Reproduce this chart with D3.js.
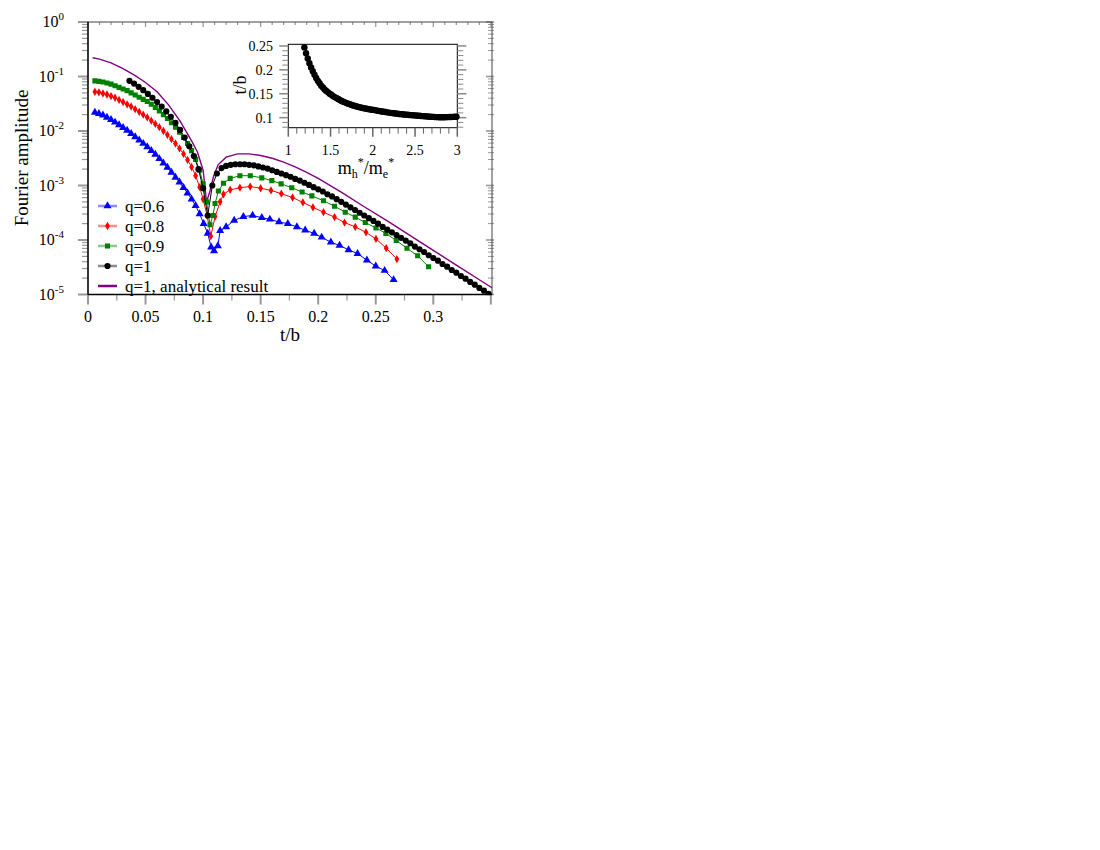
<!DOCTYPE html>
<html>
<head>
<meta charset="utf-8">
<script src="https://cdn.jsdelivr.net/npm/d3@7"></script>
<style>
  body { margin: 0; background: #fff; }
  text { font-family: "Liberation Serif", "Times New Roman", serif; fill: #000; }
</style>
</head>
<body>
<svg id="chart" width="1100" height="850"></svg>
<script>
// ---- data (t/b and log10 of the Fourier amplitude) ----
const blueT = [0.006,0.0095,0.013,0.0165,0.02,0.0235,0.027,0.0305,0.034,0.0375,0.041,0.0445,0.048,0.0515,0.055,0.0585,0.062,0.0655,0.069,0.0725,0.076,0.0795,0.083,0.0865,0.09,0.0935,0.097,0.1005,0.104,0.107,0.1095,0.1128,0.1148,0.12,0.127,0.135,0.143,0.151,0.158,0.166,0.1736,0.1815,0.1887,0.1965,0.203,0.211,0.2186,0.2264,0.2342,0.2423,0.25,0.2577,0.2655];
const blueLog = [-1.66,-1.68,-1.71,-1.75,-1.79,-1.84,-1.89,-1.94,-1.99,-2.05,-2.11,-2.17,-2.23,-2.29,-2.36,-2.43,-2.51,-2.59,-2.67,-2.76,-2.85,-2.94,-3.04,-3.14,-3.25,-3.37,-3.52,-3.70,-3.88,-4.13,-4.20,-4.11,-3.83,-3.76,-3.64,-3.57,-3.55,-3.59,-3.62,-3.67,-3.70,-3.76,-3.82,-3.88,-3.95,-4.04,-4.10,-4.18,-4.25,-4.37,-4.48,-4.56,-4.73];

const redT = [0.006,0.0095,0.013,0.0165,0.02,0.0235,0.027,0.0305,0.034,0.0375,0.041,0.0445,0.048,0.0515,0.055,0.0585,0.062,0.0655,0.069,0.0725,0.076,0.0795,0.083,0.0865,0.09,0.0935,0.097,0.1,0.1035,0.1067,0.1104,0.1148,0.1177,0.1235,0.132,0.1409,0.15,0.159,0.168,0.1777,0.1867,0.1954,0.2046,0.2142,0.2229,0.2322,0.2415,0.2502,0.2591,0.2684];
const redLog = [-1.28,-1.29,-1.31,-1.33,-1.36,-1.39,-1.43,-1.47,-1.51,-1.55,-1.60,-1.65,-1.70,-1.75,-1.81,-1.87,-1.93,-2.00,-2.07,-2.15,-2.23,-2.32,-2.42,-2.53,-2.66,-2.82,-3.03,-3.25,-3.55,-3.93,-3.57,-3.30,-3.16,-3.08,-3.04,-3.02,-3.05,-3.09,-3.15,-3.22,-3.31,-3.40,-3.49,-3.58,-3.68,-3.76,-3.86,-3.98,-4.15,-4.35];

const greenT = [0.006,0.0095,0.013,0.0165,0.02,0.0235,0.027,0.0305,0.034,0.0375,0.041,0.0445,0.048,0.0515,0.055,0.0585,0.062,0.0655,0.069,0.0725,0.076,0.0795,0.083,0.0865,0.09,0.0935,0.097,0.1,0.103,0.106,0.1085,0.1104,0.1133,0.1177,0.1235,0.132,0.141,0.151,0.1597,0.1678,0.177,0.186,0.1945,0.2046,0.2142,0.2235,0.2322,0.2409,0.2502,0.2588,0.2678,0.2771,0.2864,0.2959];
const greenLog = [-1.08,-1.09,-1.10,-1.12,-1.14,-1.17,-1.20,-1.23,-1.26,-1.30,-1.34,-1.38,-1.42,-1.46,-1.51,-1.57,-1.63,-1.70,-1.77,-1.85,-1.93,-2.02,-2.12,-2.23,-2.36,-2.52,-2.72,-2.97,-3.30,-3.72,-3.55,-3.33,-3.10,-2.96,-2.87,-2.82,-2.82,-2.86,-2.91,-2.97,-3.04,-3.12,-3.19,-3.28,-3.38,-3.49,-3.58,-3.68,-3.78,-3.88,-4.01,-4.15,-4.29,-4.49];

const blackT = [0.036,0.040,0.044,0.048,0.052,0.056,0.060,0.064,0.068,0.072,0.076,0.080,0.084,0.088,0.092,0.096,0.100,0.104,0.108,0.112,0.116,0.120,0.124,0.128,0.132,0.136,0.140,0.144,0.148,0.152,0.156,0.160,0.164,0.168,0.172,0.176,0.180,0.184,0.188,0.192,0.196,0.200,0.204,0.208,0.212,0.216,0.220,0.224,0.228,0.232,0.236,0.240,0.244,0.248,0.252,0.256,0.260,0.264,0.268,0.272,0.276,0.280,0.284,0.288,0.292,0.296,0.300,0.304,0.308,0.312,0.316,0.320,0.324,0.328,0.332,0.336,0.340,0.344,0.348,0.352];
const blackLog = [-1.08,-1.13,-1.19,-1.25,-1.32,-1.39,-1.47,-1.55,-1.64,-1.74,-1.85,-1.98,-2.12,-2.28,-2.46,-2.70,-3.05,-3.55,-3.00,-2.78,-2.68,-2.64,-2.62,-2.61,-2.61,-2.61,-2.62,-2.63,-2.65,-2.67,-2.69,-2.72,-2.75,-2.78,-2.81,-2.84,-2.88,-2.91,-2.95,-2.99,-3.03,-3.07,-3.11,-3.16,-3.20,-3.25,-3.30,-3.35,-3.40,-3.45,-3.50,-3.55,-3.60,-3.65,-3.70,-3.76,-3.81,-3.86,-3.91,-3.96,-4.01,-4.06,-4.12,-4.17,-4.22,-4.28,-4.33,-4.38,-4.44,-4.49,-4.55,-4.60,-4.66,-4.71,-4.77,-4.82,-4.88,-4.93,-4.99,-5.04];

const analyticT = [0.004,0.01,0.02,0.03,0.04,0.05,0.06,0.07,0.08,0.09,0.095,0.1,0.103,0.106,0.109,0.113,0.12,0.13,0.14,0.15,0.16,0.17,0.18,0.19,0.2,0.22,0.24,0.26,0.28,0.3,0.32,0.34,0.352];
const analyticLog = [-0.655,-0.68,-0.75,-0.85,-0.97,-1.11,-1.28,-1.52,-1.82,-2.18,-2.38,-2.72,-3.3,-3.1,-2.84,-2.62,-2.48,-2.42,-2.42,-2.45,-2.50,-2.57,-2.66,-2.76,-2.87,-3.12,-3.39,-3.65,-3.92,-4.19,-4.46,-4.73,-4.89];

// inset: t/b versus m_h*/m_e*
const massRatio = [1.19,1.21,1.23,1.25,1.27,1.29,1.31,1.33,1.35,1.37,1.39,1.41,1.43,1.45,1.47,1.49,1.51,1.53,1.55,1.57,1.59,1.61,1.63,1.65,1.67,1.69,1.71,1.73,1.75,1.77,1.79,1.81,1.83,1.85,1.87,1.89,1.91,1.93,1.95,1.97,1.99,2.01,2.03,2.05,2.07,2.09,2.11,2.13,2.15,2.17,2.19,2.21,2.23,2.25,2.27,2.29,2.31,2.33,2.35,2.37,2.39,2.41,2.43,2.45,2.47,2.49,2.51,2.53,2.55,2.57,2.59,2.61,2.63,2.65,2.67,2.69,2.71,2.73,2.75,2.77,2.79,2.81,2.83,2.85,2.87,2.89,2.91,2.93,2.95,2.97,2.99];
const insetTb = [0.247,0.235,0.224,0.214,0.205,0.197,0.190,0.183,0.177,0.172,0.167,0.163,0.159,0.156,0.153,0.150,0.148,0.145,0.143,0.141,0.139,0.137,0.135,0.1335,0.132,0.1305,0.129,0.128,0.1265,0.1255,0.1245,0.1235,0.1225,0.1215,0.1207,0.1199,0.1192,0.1185,0.1178,0.1172,0.1166,0.1162,0.1155,0.1148,0.1141,0.1135,0.1129,0.1123,0.1117,0.1111,0.1106,0.1101,0.1096,0.1091,0.1086,0.1082,0.1078,0.1074,0.1070,0.1066,0.1063,0.1060,0.1057,0.1054,0.1051,0.1048,0.1045,0.1042,0.1039,0.1036,0.1033,0.1030,0.1027,0.1024,0.1021,0.1018,0.1016,0.1014,0.1012,0.1011,0.1010,0.1010,0.1010,0.1010,0.1011,0.1012,0.1013,0.1014,0.1016,0.1018,0.1020];

const xTicks = [0, 0.05, 0.1, 0.15, 0.2, 0.25, 0.3];
const xTickLabels = ["0", "0.05", "0.1", "0.15", "0.2", "0.25", "0.3"];
const yDecades = [0, -1, -2, -3, -4, -5];
const insetXTicks = [1, 1.5, 2, 2.5, 3];
const insetXLabels = ["1", "1.5", "2", "2.5", "3"];
const insetYTicks = [0.1, 0.15, 0.2, 0.25];
const insetYLabels = ["0.1", "0.15", "0.2", "0.25"];

const series = [
  {name: "q=0.6", t: blueT, v: blueLog, color: "#0000ff", symbol: d3.symbolTriangle, size: 28},
  {name: "q=0.8", t: redT, v: redLog, color: "#ff0000", symbol: d3.symbolDiamond, size: 20},
  {name: "q=0.9", t: greenT, v: greenLog, color: "#008000", symbol: d3.symbolSquare, size: 26},
  {name: "q=1", t: blackT, v: blackLog, color: "#000000", symbol: d3.symbolCircle, size: 30}
];

const svg = d3.select("#chart");
const tickColor = "#999";

// ---- main plot ----
const pL = 88, pR = 492, pT = 22, pB = 294.5;
const x = d3.scaleLinear().domain([0, 0.351]).range([pL, pR]);
const y = d3.scaleLog().domain([1e-5, 1]).range([pB, pT]);

svg.append("clipPath").attr("id", "clip")
  .append("rect").attr("x", pL).attr("y", pT)
  .attr("width", pR - pL).attr("height", pB - pT);

// log ticks (left outward, right inward)
const logTicks = [];
for (let e = -5; e < 0; e++) {
  for (let m = 1; m < 10; m++) logTicks.push({v: m * Math.pow(10, e), major: m === 1});
}
logTicks.push({v: 1, major: true});

const gAx = svg.append("g");
gAx.selectAll(".ly").data(logTicks).join("line")
  .attr("x1", d => pL - (d.major ? 10 : 6)).attr("x2", pL)
  .attr("y1", d => y(d.v)).attr("y2", d => y(d.v))
  .attr("stroke", tickColor).attr("stroke-width", d => d.major ? 2 : 1.2);
gAx.selectAll(".ry").data(logTicks).join("line")
  .attr("x1", d => pR - (d.major ? 6 : 4)).attr("x2", pR + 2)
  .attr("y1", d => y(d.v)).attr("y2", d => y(d.v))
  .attr("stroke", tickColor).attr("stroke-width", d => d.major ? 1.6 : 1);

// bottom ticks
const xMinor = d3.range(0, 0.351, 0.025);
gAx.selectAll(".bx").data(xMinor).join("line")
  .attr("x1", d => x(d)).attr("x2", d => x(d))
  .attr("y1", pB).attr("y2", (d, i) => pB + (i % 2 === 0 ? 10 : 6))
  .attr("stroke", tickColor).attr("stroke-width", (d, i) => i % 2 === 0 ? 2 : 1.2);
// top ticks
const xTop = d3.range(0, 0.351, 0.01);
gAx.selectAll(".tx").data(xTop).join("line")
  .attr("x1", d => x(d)).attr("x2", d => x(d))
  .attr("y1", pT).attr("y2", (d, i) => pT + (i % 5 === 0 ? 5 : 3))
  .attr("stroke", tickColor).attr("stroke-width", 1.2);

// frame
svg.append("rect").attr("x", pL).attr("y", pT)
  .attr("width", pR - pL).attr("height", pB - pT)
  .attr("fill", "none").attr("stroke", "#444").attr("stroke-width", 1);
svg.append("line").attr("x1", pL).attr("x2", pR).attr("y1", pB).attr("y2", pB)
  .attr("stroke", "#000").attr("stroke-width", 1.3);
svg.append("line").attr("x1", pL).attr("x2", pL).attr("y1", pT).attr("y2", pB)
  .attr("stroke", "#000").attr("stroke-width", 1.3);

// tick labels
svg.selectAll(".xl").data(xTicks).join("text")
  .attr("x", d => x(d)).attr("y", 322)
  .attr("text-anchor", "middle").attr("font-size", 16)
  .text((d, i) => xTickLabels[i]);

const yl = svg.selectAll(".yl").data(yDecades).join("text")
  .attr("x", 64).attr("y", d => y(Math.pow(10, d)) + 5)
  .attr("text-anchor", "end").attr("font-size", 16);
yl.append("tspan").text("10");
yl.append("tspan").attr("dy", -7).attr("font-size", 11).text(d => d === 0 ? "0" : "-" + (-d));

svg.append("text").attr("x", 290).attr("y", 341).attr("text-anchor", "middle")
  .attr("font-size", 19).text("t/b");
svg.append("text").attr("transform", "translate(28,158) rotate(-90)")
  .attr("text-anchor", "middle").attr("font-size", 19).text("Fourier amplitude");

// data
const plot = svg.append("g").attr("clip-path", "url(#clip)");
const line = d3.line().x(d => x(d[0])).y(d => y(Math.pow(10, d[1])));

plot.append("path")
  .attr("d", line(analyticT.map((t, i) => [t, analyticLog[i]])))
  .attr("fill", "none").attr("stroke", "#800080").attr("stroke-width", 1.4);

series.forEach(s => {
  const pts = s.t.map((t, i) => [t, s.v[i]]);
  const g = plot.append("g");
  g.append("path").attr("d", line(pts))
    .attr("fill", "none").attr("stroke", s.color).attr("stroke-width", 1);
  g.selectAll("path.m").data(pts).join("path")
    .attr("class", "m")
    .attr("transform", d => `translate(${x(d[0])},${y(Math.pow(10, d[1]))})`)
    .attr("d", d3.symbol().type(s.symbol).size(s.size))
    .attr("fill", s.color);
});

// legend
const legendItems = series.concat([{name: "q=1, analytical result", color: "#800080"}]);
const legend = svg.selectAll(".legend").data(legendItems).join("g")
  .attr("transform", (d, i) => `translate(98, ${206 + i * 20})`);
legend.append("line")
  .attr("x1", 0).attr("x2", 19).attr("y1", 0).attr("y2", 0)
  .attr("stroke", d => d.color)
  .attr("stroke-opacity", d => d.symbol ? 0.45 : 1)
  .attr("stroke-width", 2.5);
legend.filter(d => d.symbol).append("path")
  .attr("transform", "translate(9.5,0)")
  .attr("d", d => d3.symbol().type(d.symbol).size(d.size)())
  .attr("fill", d => d.color);
legend.append("text").attr("x", 27).attr("y", 6)
  .attr("font-size", 17).text(d => d.name);

// ---- inset ----
const iL = 288.3, iR = 457.3, iT = 44.3, iB = 127.7;
const ix = d3.scaleLinear().domain([1, 3]).range([iL, iR]);
const iy = d3.scaleLinear().domain([0.079, 0.2535]).range([iB, iT]);
const inset = svg.append("g");

inset.append("rect").attr("x", iL).attr("y", iT)
  .attr("width", iR - iL).attr("height", iB - iT)
  .attr("fill", "#fff").attr("stroke", "#000").attr("stroke-width", 1);

const ixMinor = d3.range(1, 3.001, 0.1);
inset.selectAll(".ixt").data(ixMinor).join("line")
  .attr("x1", d => ix(d)).attr("x2", d => ix(d))
  .attr("y1", iB).attr("y2", (d, i) => iB + (i % 5 === 0 ? 9 : 6))
  .attr("stroke", "#666").attr("stroke-width", (d, i) => i % 5 === 0 ? 1.5 : 1);
const iyMinor = d3.range(0.08, 0.2535, 0.01);
[iL, iR].forEach((edge, k) => {
  const dir = k === 0 ? -1 : 1;
  inset.selectAll(".iyt" + k).data(iyMinor).join("line")
    .attr("x1", edge).attr("x2", d => edge + dir * (Math.round(d * 100) % 5 === 0 ? 9 : 6))
    .attr("y1", d => iy(d)).attr("y2", d => iy(d))
    .attr("stroke", "#888").attr("stroke-width", d => Math.round(d * 100) % 5 === 0 ? 1.5 : 1);
});

inset.selectAll(".ixl").data(insetXTicks).join("text")
  .attr("x", d => ix(d)).attr("y", 155).attr("text-anchor", "middle")
  .attr("font-size", 14).text((d, i) => insetXLabels[i]);
inset.selectAll(".iyl").data(insetYTicks).join("text")
  .attr("x", 273).attr("y", d => iy(d) + 5).attr("text-anchor", "end")
  .attr("font-size", 14).text((d, i) => insetYLabels[i]);

inset.append("text").attr("transform", "translate(246,85) rotate(-90)")
  .attr("text-anchor", "middle").attr("font-size", 18).text("t/b");
const mt = inset.append("text").attr("x", 366).attr("y", 174)
  .attr("text-anchor", "middle").attr("font-size", 18);
mt.append("tspan").text("m");
mt.append("tspan").attr("dy", 4).attr("font-size", 12).text("h");
mt.append("tspan").attr("dy", -12).attr("font-size", 12).text("*");
mt.append("tspan").attr("dy", 8).text("/m");
mt.append("tspan").attr("dy", 4).attr("font-size", 12).text("e");
mt.append("tspan").attr("dy", -12).attr("font-size", 12).text("*");

inset.selectAll(".ip").data(massRatio).join("circle")
  .attr("cx", d => ix(d)).attr("cy", (d, i) => iy(insetTb[i]))
  .attr("r", 3.2).attr("fill", "#000");
</script>
</body>
</html>
